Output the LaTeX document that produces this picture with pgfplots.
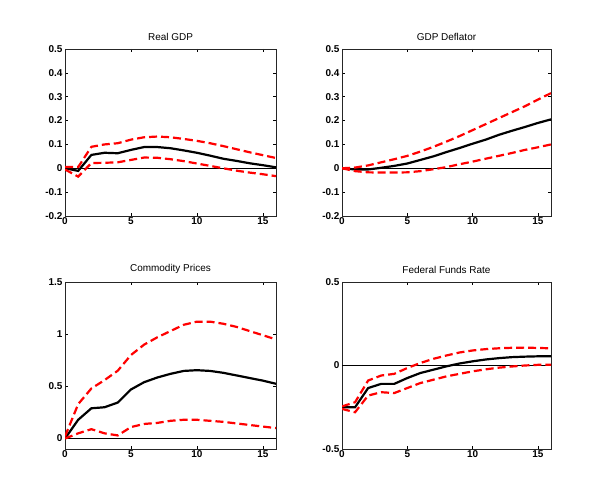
\documentclass[border=0pt]{standalone}
\usepackage{fontspec}
\setmainfont{Liberation Sans}
\usepackage{pgfplots}
\pgfplotsset{compat=1.18}
\pgfplotsset{
  irf/.style={
    scale only axis,
    anchor=south west,
    xmin=0, xmax=16,
    xtick={0,5,10,15},
    tick align=inside,
    major tick length=3bp,
    axis line style={line width=0.6pt, black!85},
    every tick/.style={black, line width=0.5pt},
    /pgf/number format/assume math mode=true,
    /pgf/number format/fixed,
    tick label style={font=\fontsize{10}{11}\selectfont\bfseries},
    title style={font=\fontsize{10}{11}\selectfont, yshift=-1bp},
    yticklabel style={xshift=1bp},
    xticklabel style={yshift=2bp},
  },
  band/.style={red, line width=2.2bp, dash pattern=on 8bp off 4bp},
  irfline/.style={black, line width=2.2bp},
  zero/.style={black, line width=0.6pt},
}
\begin{document}
\begin{tikzpicture}[x=1bp,y=1bp]
\useasboundingbox (0,0) rectangle (600,503);
% Real GDP
\begin{axis}[irf, at={(65bp,287bp)}, width=211bp, height=167bp,
  ymin=-0.2, ymax=0.5, ytick={-0.2,-0.1,0,0.1,0.2,0.3,0.4,0.5},
  title={Real GDP}]
\addplot[zero] coordinates {(0,0) (16,0)};
\addplot[irfline] coordinates {(0,0) (1,-0.011) (2,0.056) (3,0.065) (4,0.063) (5,0.077) (6,0.089) (7,0.089) (8,0.084) (9,0.075) (10,0.065) (11,0.053) (12,0.040) (13,0.031) (14,0.021) (15,0.013) (16,0.004)};
\addplot[band] coordinates {(0,0.005) (1,0.005) (2,0.09) (3,0.10) (4,0.105) (5,0.12) (6,0.13) (7,0.133) (8,0.13) (9,0.123) (10,0.115) (11,0.105) (12,0.093) (13,0.08) (14,0.067) (15,0.055) (16,0.043)};
\addplot[band] coordinates {(0,-0.005) (1,-0.035) (2,0.022) (3,0.023) (4,0.025) (5,0.035) (6,0.045) (7,0.044) (8,0.038) (9,0.03) (10,0.02) (11,0.01) (12,0.0) (13,-0.01) (14,-0.018) (15,-0.025) (16,-0.033)};
\end{axis}
% GDP Deflator
\begin{axis}[irf, at={(342bp,287bp)}, width=209bp, height=167bp,
  ymin=-0.2, ymax=0.5, ytick={-0.2,-0.1,0,0.1,0.2,0.3,0.4,0.5},
  title={GDP Deflator}]
\addplot[zero] coordinates {(0,0) (16,0)};
\addplot[irfline] coordinates {(0,0) (1,-0.005) (2,-0.005) (3,0.002) (4,0.01) (5,0.02) (6,0.035) (7,0.05) (8,0.068) (9,0.085) (10,0.103) (11,0.12) (12,0.14) (13,0.157) (14,0.173) (15,0.19) (16,0.205)};
\addplot[band] coordinates {(0,0) (1,0.003) (2,0.012) (3,0.025) (4,0.038) (5,0.052) (6,0.07) (7,0.09) (8,0.112) (9,0.135) (10,0.16) (11,0.185) (12,0.21) (13,0.235) (14,0.26) (15,0.288) (16,0.315)};
\addplot[band] coordinates {(0,0) (1,-0.012) (2,-0.017) (3,-0.018) (4,-0.018) (5,-0.017) (6,-0.012) (7,-0.004) (8,0.005) (9,0.017) (10,0.028) (11,0.04) (12,0.052) (13,0.064) (14,0.077) (15,0.088) (16,0.1)};
\end{axis}
% Commodity Prices
\begin{axis}[irf, at={(65bp,54bp)}, width=211bp, height=167bp,
  ymin=-0.1, ymax=1.5, ytick={0,0.5,1,1.5},
  title={Commodity Prices}]
\addplot[zero] coordinates {(0,0) (16,0)};
\addplot[irfline] coordinates {(0,0) (1,0.18) (2,0.29) (3,0.30) (4,0.345) (5,0.47) (6,0.54) (7,0.585) (8,0.62) (9,0.648) (10,0.655) (11,0.648) (12,0.63) (13,0.605) (14,0.58) (15,0.555) (16,0.525)};
\addplot[band] coordinates {(0,0.02) (1,0.33) (2,0.48) (3,0.56) (4,0.65) (5,0.8) (6,0.9) (7,0.97) (8,1.03) (9,1.09) (10,1.12) (11,1.12) (12,1.1) (13,1.07) (14,1.03) (15,0.99) (16,0.95)};
\addplot[band] coordinates {(0,0) (1,0.05) (2,0.09) (3,0.05) (4,0.03) (5,0.11) (6,0.14) (7,0.15) (8,0.17) (9,0.18) (10,0.18) (11,0.17) (12,0.16) (13,0.145) (14,0.13) (15,0.115) (16,0.1)};
\end{axis}
% Federal Funds Rate
\begin{axis}[irf, at={(342bp,54bp)}, width=209bp, height=167bp,
  ymin=-0.5, ymax=0.5, ytick={-0.5,0,0.5},
  title={Federal Funds Rate}]
\addplot[zero] coordinates {(0,0) (16,0)};
\addplot[irfline] coordinates {(0,-0.25) (1,-0.25) (2,-0.135) (3,-0.11) (4,-0.11) (5,-0.075) (6,-0.045) (7,-0.025) (8,-0.005) (9,0.012) (10,0.025) (11,0.036) (12,0.044) (13,0.05) (14,0.053) (15,0.055) (16,0.055)};
\addplot[band] coordinates {(0,-0.245) (1,-0.22) (2,-0.09) (3,-0.06) (4,-0.05) (5,-0.015) (6,0.015) (7,0.04) (8,0.06) (9,0.078) (10,0.09) (11,0.098) (12,0.103) (13,0.106) (14,0.107) (15,0.105) (16,0.103)};
\addplot[band] coordinates {(0,-0.26) (1,-0.28) (2,-0.18) (3,-0.16) (4,-0.165) (5,-0.135) (6,-0.105) (7,-0.085) (8,-0.065) (9,-0.05) (10,-0.035) (11,-0.023) (12,-0.013) (13,-0.006) (14,0.0) (15,0.004) (16,0.005)};
\end{axis}
\end{tikzpicture}
\end{document}
